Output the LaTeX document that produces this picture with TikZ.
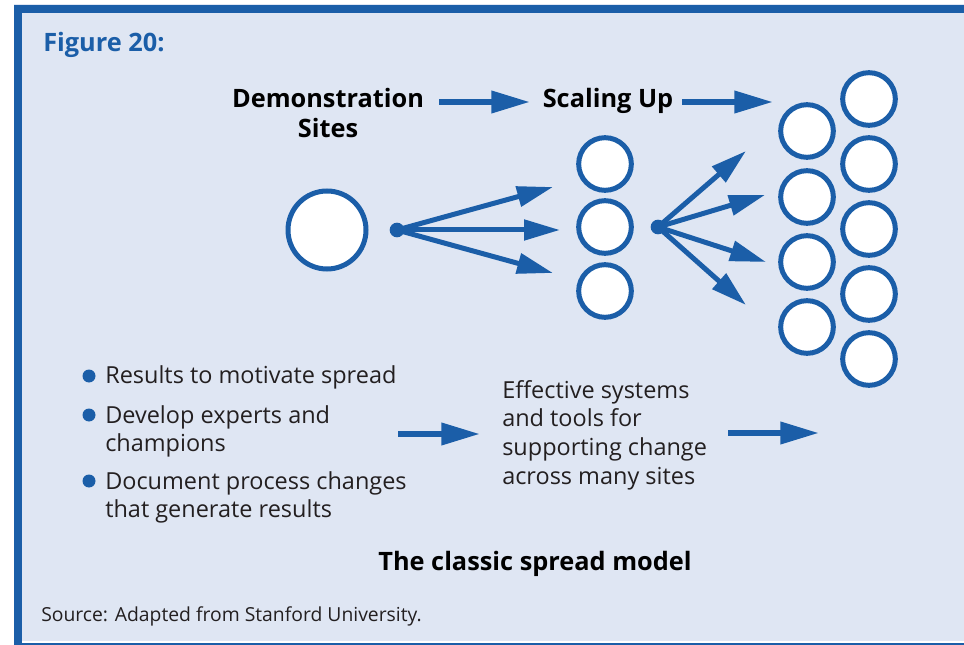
\documentclass[tikz,border=0pt]{standalone}
\usepackage{fontspec}
\setmainfont{Open Sans}
\usepackage{tikz}
\usetikzlibrary{arrows.meta}
\definecolor{figblue}{RGB}{27,94,168}
\definecolor{figback}{RGB}{223,230,243}
\definecolor{figtext}{RGB}{35,31,32}

\begin{document}
\begin{tikzpicture}[x=0.75pt,y=0.75pt,yscale=-1,xscale=1,
  site/.style={circle,draw=figblue,fill=white,line width=3.75pt,inner sep=0pt,minimum size=39.5pt},
  bigsite/.style={site,minimum size=58.5pt},
  hub/.style={circle,fill=figblue,inner sep=0pt,minimum size=11pt},
  bul/.style={circle,fill=figblue,inner sep=0pt,minimum size=9.75pt},
  flow/.style={draw=figblue,line width=4.5pt,-{Triangle[length=29pt,width=16pt,fill=figblue]}},
  fan/.style={draw=figblue,line width=3.75pt,-{Triangle[length=27pt,width=15pt,fill=figblue]}},
  head/.style={inner sep=0pt,font=\fontsize{19}{22.5}\selectfont\bfseries},
  body/.style={inner sep=0pt,text=figtext,align=left,font=\fontsize{17.6}{20.5}\selectfont}]
\useasboundingbox (0,0) rectangle (964,645);

%Shape: Rectangle (panel)
\fill [white] (0,0) rectangle (964,645);
\fill [figback] (14,4) rectangle (964,641);
\fill [figblue] (14,5) rectangle (964,13);
\fill [figblue] (14,5) rectangle (22,645);
\fill [figblue] (14,643) rectangle (964,645);

% Text Node
\node [head,anchor=base west,text=figblue] (fig) at (43,52) {Figure 20:};
% Text Node (base is the last line)
\node [head,anchor=base,align=center] (demo) at (328,138) {Demonstration\\Sites};
% Text Node
\node [head,anchor=base] (scal) at (608,108) {Scaling Up};

%Straight Lines (top arrows)
\coordinate (t1a) at (439,102);
\coordinate (t1b) at (530,102);
\coordinate (t2a) at (682,102);
\coordinate (t2b) at (773,102);
\draw [flow] (t1a) -- (t1b);
\draw [flow] (t2a) -- (t2b);

%Shape: Circle (demonstration site)
\node [bigsite] (big) at (327,230) {};
\node [hub] (hubA) at (397,230) {};

%Shape: Circle (scaling up sites)
\node [site] (m1) at (605,164) {};
\node [site] (m2) at (605,227) {};
\node [site] (m3) at (605,291) {};
\node [hub] (hubB) at (658,227) {};

%Shape: Circle (many sites)
\node [site] (a1) at (807,131) {};
\node [site] (a2) at (807,197) {};
\node [site] (a3) at (807,262) {};
\node [site] (a4) at (807,327) {};
\node [site] (b1) at (869,99) {};
\node [site] (b2) at (869,164) {};
\node [site] (b3) at (869,229) {};
\node [site] (b4) at (869,294) {};
\node [site] (b5) at (869,359) {};

%Straight Lines (fans)
\coordinate (fa1) at (553,187);
\coordinate (fa2) at (560,230);
\coordinate (fa3) at (553,273);
\draw [fan] (hubA.center) -- (fa1);
\draw [fan] (hubA.center) -- (fa2);
\draw [fan] (hubA.center) -- (fa3);
\coordinate (fb1) at (746,151);
\coordinate (fb2) at (765,195);
\coordinate (fb3) at (766,262);
\coordinate (fb4) at (746,305);
\draw [fan] (hubB.center) -- (fb1);
\draw [fan] (hubB.center) -- (fb2);
\draw [fan] (hubB.center) -- (fb3);
\draw [fan] (hubB.center) -- (fb4);

% Text Node (bullets)
\node [bul] (d1) at (89,376) {};
\node [bul] (d2) at (89,415) {};
\node [bul] (d3) at (89,481) {};
\node [body,anchor=base west] (r1) at (105,383) {Results to motivate spread};
\node [body,anchor=base west] (r2) at (105,451) {Develop experts and\\champions};
\node [body,anchor=base west] (r3) at (105,517) {Document process changes\\that generate results};

% Text Node
\node [body,anchor=base west,font=\fontsize{17.6}{21.5}\selectfont] (eff) at (502,484) {Effective systems\\and tools for\\supporting change\\across many sites};

%Straight Lines (bottom arrows)
\coordinate (u1a) at (398,434);
\coordinate (u1b) at (480,434);
\coordinate (u2a) at (728,433);
\coordinate (u2b) at (819,433);
\draw [flow] (u1a) -- (u1b);
\draw [flow] (u2a) -- (u2b);

% Text Node
\node [head,anchor=base] (title) at (535,570) {The classic spread model};
% Text Node
\node [inner sep=0pt,anchor=base west,text=figtext,font=\fontsize{14.5}{16}\selectfont] (src) at (41,621) {Source: Adapted from Stanford University.};

\end{tikzpicture}
\end{document}
